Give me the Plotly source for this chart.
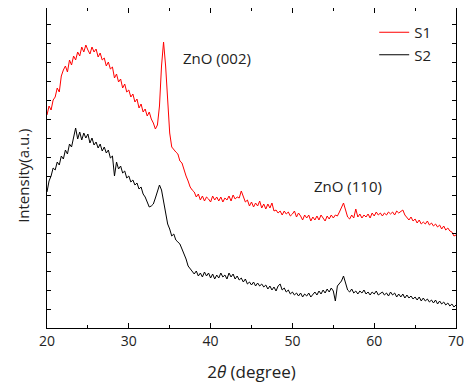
import numpy as np
import plotly.graph_objects as go

two_theta = [20 + 0.25 * i for i in range(201)]

s1 = [
    213, 222, 218, 228, 231, 240, 236, 252, 258, 262, 256, 268, 263, 272, 268, 276,
    272, 281, 276, 283, 278, 274, 281, 276, 279, 271, 275, 268, 270, 262, 266, 259,
    261, 250, 254, 246, 249, 240, 244, 236, 238, 231, 234, 226, 229, 220, 224, 216,
    219, 212, 216, 209, 205, 199, 203, 222, 262, 286, 262, 222, 195, 181, 178, 176,
    174, 167, 165, 158, 152, 147, 141, 138, 136, 131, 134, 128, 132, 127, 131, 129,
    126, 132, 128, 131, 127, 131, 126, 130, 128, 132, 127, 133, 129, 131, 130, 137,
    131, 126, 128, 122, 126, 121, 125, 122, 127, 120, 124, 119, 124, 120, 125, 117,
    118, 115, 117, 113, 117, 114, 116, 112, 114, 117, 111, 115, 112, 108, 113, 110,
    113, 107, 111, 108, 112, 108, 113, 110, 107, 112, 109, 113, 110, 113, 112, 116,
    120, 125, 118, 111, 109, 113, 110, 119, 111, 114, 110, 113, 111, 114, 110, 115,
    112, 116, 113, 115, 112, 115, 113, 116, 114, 116, 113, 117, 115, 117, 118, 113,
    110, 108, 111, 107, 109, 105, 108, 104, 106, 104, 107, 103, 105, 102, 104, 101,
    103, 99, 102, 98, 100, 97, 96, 92, 93,
]

s2 = [
    136, 147, 152, 160, 158, 166, 163, 172, 169, 178, 174, 184, 181, 190, 200, 189,
    196, 188, 195, 190, 194, 185, 190, 183, 186, 180, 184, 177, 181, 175, 178, 170,
    172, 152, 166, 159, 162, 155, 157, 150, 152, 146, 148, 143, 145, 139, 141, 134,
    131, 126, 121, 122, 124, 130, 137, 143, 138, 126, 115, 104, 99, 92, 94, 88,
    86, 84, 79, 74, 69, 62, 59, 56, 54, 57, 52, 55, 51, 56, 52, 55,
    50, 54, 49, 53, 50, 55, 51, 53, 49, 55, 51, 54, 49, 52, 48, 50,
    46, 49, 44, 46, 43, 46, 42, 45, 42, 44, 41, 43, 39, 42, 38, 41,
    37, 42, 44, 38, 40, 36, 38, 34, 36, 33, 35, 32, 35, 31, 34, 32,
    35, 31, 34, 36, 33, 37, 34, 38, 35, 39, 36, 40, 37, 27, 42, 44,
    47, 52, 45, 38, 36, 39, 35, 37, 34, 37, 35, 38, 34, 36, 33, 36,
    34, 37, 33, 35, 36, 33, 35, 32, 36, 33, 35, 31, 34, 31, 34, 30,
    33, 30, 32, 29, 31, 28, 31, 27, 30, 27, 29, 26, 28, 25, 28, 24,
    27, 24, 26, 23, 25, 22, 24, 21, 23,
]

peak_labels = ["ZnO (002)", "ZnO (110)"]
peak_label_x = [36.4, 52.4]
peak_label_y = [270, 142]

FONT = "Open Sans"

fig = go.Figure()
fig.add_trace(go.Scatter(x=two_theta, y=s1, mode="lines", name="S1",
                         line=dict(color="#ff0000", width=1)))
fig.add_trace(go.Scatter(x=two_theta, y=s2, mode="lines", name="S2",
                         line=dict(color="#000000", width=1)))

for txt, px, py in zip(peak_labels, peak_label_x, peak_label_y):
    fig.add_annotation(x=px, y=py, text=txt, showarrow=False, xanchor="left",
                       font=dict(family=FONT, size=15, color="#222"))

# y-axis title as a rotated annotation (placed slightly below the plot centre)
fig.add_annotation(xref="paper", yref="paper", x=-0.059, y=0.475,
                   text="Intensity(a.u.)", textangle=-90, showarrow=False,
                   xanchor="center", yanchor="middle",
                   font=dict(family=FONT, size=15, color="#222"))

fig.update_layout(
    width=464, height=382,
    margin=dict(l=39, r=16, t=0, b=62),
    paper_bgcolor="white", plot_bgcolor="white",
    font=dict(family=FONT, color="#222"),
    showlegend=True,
    legend=dict(x=0.80, y=0.975, xanchor="left", yanchor="top",
                bgcolor="rgba(0,0,0,0)", font=dict(family=FONT, size=15, color="#222"),
                itemwidth=30, tracegroupgap=0),
    xaxis=dict(range=[20, 70], dtick=10, tick0=20, showgrid=False, zeroline=False,
               showline=True, linecolor="black", linewidth=1, mirror="allticks",
               ticks="inside", ticklen=5, tickcolor="black",
               minor=dict(dtick=5, tick0=20, ticks="inside", ticklen=3, tickcolor="black"),
               tickfont=dict(family=FONT, size=14, color="#222"),
               title=dict(text="2<i>θ</i> (degree)", font=dict(family=FONT, size=17, color="#222"),
                          standoff=17)),
    yaxis=dict(range=[0, 320], dtick=19, tick0=0, showgrid=False, zeroline=False,
               showline=True, linecolor="black", linewidth=1, mirror="allticks",
               ticks="inside", ticklen=4, tickcolor="black", showticklabels=False),
)

fig.write_html("out.html")
